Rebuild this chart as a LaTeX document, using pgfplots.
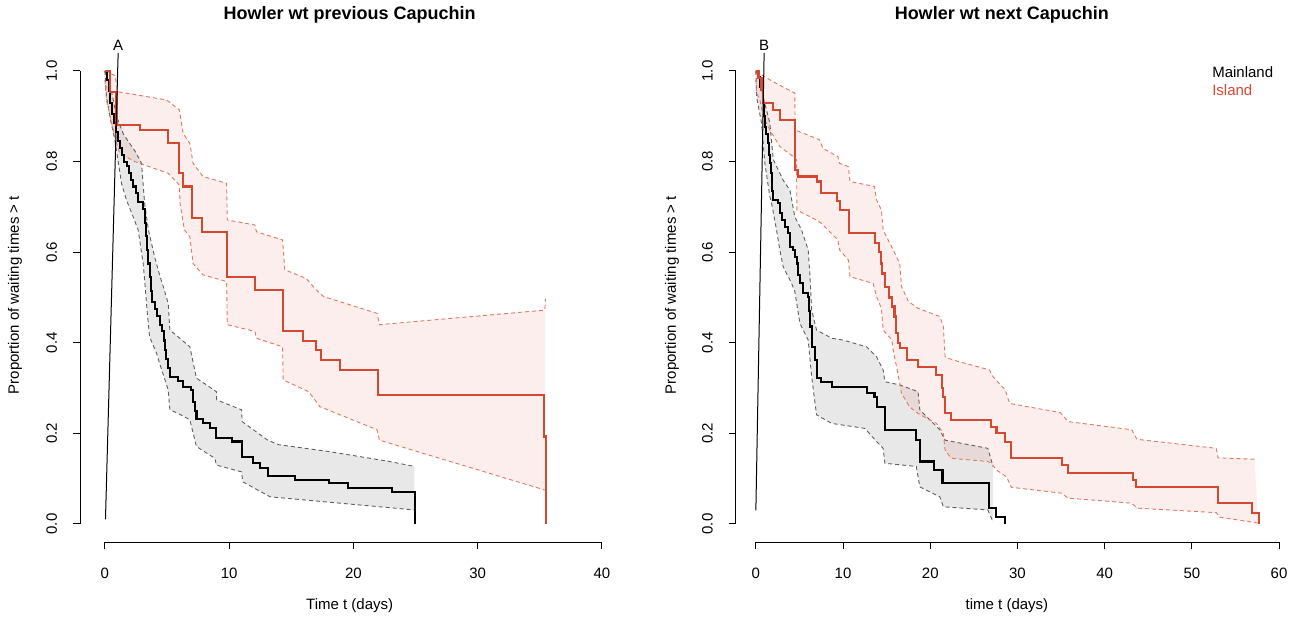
\documentclass[border=0pt]{standalone}
\usepackage{pgfplots}
\pgfplotsset{compat=1.18}
\usepackage{fontspec}
\setmainfont{Liberation Sans}
\definecolor{redC}{RGB}{213,72,48}
\definecolor{redCI}{RGB}{226,120,100}
\definecolor{grayCI}{RGB}{95,95,95}
\pgfplotsset{
  rstyle/.style={
    scale only axis, enlargelimits=false, clip=false,
    axis lines*=left, axis line style={draw=none},
    tick align=outside, major tick length=3.5pt,
    tick style={black, line width=0.5pt},
    ymin=-0.04, ymax=1.08,
    ytick={0,0.2,0.4,0.6,0.8,1.0},
    yticklabels={0.0,0.2,0.4,0.6,0.8,1.0},
    yticklabel style={rotate=90, anchor=south, yshift=4.5pt},
    xticklabel style={yshift=-6pt},
    font=\fontsize{7.5}{9}\selectfont,
    /pgf/number format/assume math mode=true,
    height=253.7pt,
  },
  km/.style={const plot, line width=1.05pt},
  ci/.style={line width=0.45pt, dash pattern=on 2pt off 1.5pt},
}
\begin{document}
\begin{tikzpicture}
\path[use as bounding box] (0,0) rectangle (644.5pt,308.5pt);
% ---------------- Left panel ----------------
\begin{axis}[rstyle, at={(40pt,37.45pt)}, anchor=south west,
  width=267.2pt, xmin=-2, xmax=41, xtick={0,10,20,30,40}]
\draw[black, line width=0.5pt] (axis cs:0,-0.04) -- (axis cs:40,-0.04);
\draw[black, line width=0.5pt] (axis cs:-2,0) -- (axis cs:-2,1);
% bands
\addplot[fill=black, fill opacity=0.09, draw=none] coordinates {(0,1.0)(0.5,0.96)(0.94,0.90)(1.5,0.86)(2.5,0.82)(2.95,0.796)(3.2,0.708)(3.5,0.65)(4.0,0.59)(4.4,0.55)(4.7,0.524)(5.1,0.487)(5.23,0.428)(5.9,0.413)(6.84,0.391)(7.37,0.322)(8.98,0.292)(9.0,0.274)(11.0,0.252)(11.05,0.226)(13.1,0.185)(14.0,0.175)(18.0,0.16)(22.9,0.138)(24.9,0.127)
(24.9,0.031)(13.3,0.06)(11.1,0.093)(11.0,0.115)(8.98,0.13)(8.85,0.145)(7.37,0.171)(6.84,0.23)(5.9,0.244)(5.23,0.252)(5.1,0.296)(4.4,0.355)(4.16,0.377)(3.6,0.413)(3.4,0.47)(3.2,0.539)(3.08,0.575)(2.68,0.649)(2.28,0.678)(1.74,0.715)(1.34,0.752)(1.07,0.80)(0.8,0.848)(0.4,0.90)(0.13,0.943)(0,1.0)} -- cycle;
\addplot[fill=redC, fill opacity=0.09, draw=none] coordinates {(0,1.0)(0.8,0.99)(1.07,0.954)(4.96,0.936)(6.0,0.914)(6.3,0.862)(6.84,0.84)(7.1,0.796)(7.9,0.767)(9.8,0.752)(9.85,0.671)(12.07,0.66)(12.2,0.645)(14.3,0.627)(14.48,0.561)(16.2,0.542)(17.0,0.517)(17.6,0.502)(21.9,0.465)(22.1,0.44)(35.4,0.472)(35.45,0.497)
(35.4,0.075)(22.1,0.185)(21.9,0.208)(17.3,0.259)(16.4,0.292)(14.35,0.318)(14.3,0.391)(12.2,0.41)(12.07,0.425)(9.85,0.44)(9.8,0.535)(7.9,0.55)(7.1,0.575)(6.84,0.634)(6.4,0.649)(6.05,0.708)(6.0,0.748)(5.1,0.774)(2.4,0.80)(1.2,0.818)(0.94,0.84)(0.5,0.89)(0.13,0.936)(0,0.98)} -- cycle;
% Mainland CI
\addplot[ci, grayCI] coordinates {(0,1.0)(0.5,0.96)(0.94,0.90)(1.5,0.86)(2.5,0.82)(2.95,0.796)(3.2,0.708)(3.5,0.65)(4.0,0.59)(4.4,0.55)(4.7,0.524)(5.1,0.487)(5.23,0.428)(5.9,0.413)(6.84,0.391)(7.37,0.322)(8.98,0.292)(9.0,0.274)(11.0,0.252)(11.05,0.226)(13.1,0.185)(14.0,0.175)(18.0,0.16)(22.9,0.138)(24.9,0.127)};
\addplot[ci, grayCI] coordinates {(0,1.0)(0.13,0.943)(0.4,0.90)(0.8,0.848)(1.07,0.80)(1.34,0.752)(1.74,0.715)(2.28,0.678)(2.68,0.649)(3.08,0.575)(3.2,0.539)(3.4,0.47)(3.6,0.413)(4.16,0.377)(4.4,0.355)(5.1,0.296)(5.23,0.252)(5.9,0.244)(6.84,0.23)(7.37,0.171)(8.85,0.145)(8.98,0.13)(11.0,0.115)(11.1,0.093)(13.3,0.06)(24.9,0.031)};
% Island CI
\addplot[ci, redCI] coordinates {(0,1.0)(0.8,0.99)(1.07,0.954)(4.96,0.936)(6.0,0.914)(6.3,0.862)(6.84,0.84)(7.1,0.796)(7.9,0.767)(9.8,0.752)(9.85,0.671)(12.07,0.66)(12.2,0.645)(14.3,0.627)(14.48,0.561)(16.2,0.542)(17.0,0.517)(17.6,0.502)(21.9,0.465)(22.1,0.44)(35.4,0.472)(35.45,0.497)};
\addplot[ci, redCI] coordinates {(0,0.98)(0.13,0.936)(0.5,0.89)(0.94,0.84)(1.2,0.818)(2.4,0.80)(5.1,0.774)(6.0,0.748)(6.05,0.708)(6.4,0.649)(6.84,0.634)(7.1,0.575)(7.9,0.55)(9.8,0.535)(9.85,0.44)(12.07,0.425)(12.2,0.41)(14.3,0.391)(14.35,0.318)(16.4,0.292)(17.3,0.259)(21.9,0.208)(22.1,0.185)(35.4,0.075)};
% KM curves
\addplot[km, black] coordinates {(0,1.0)(0.15,0.98)(0.3,0.955)(0.45,0.93)(0.6,0.905)(0.75,0.885)(0.9,0.865)(1.05,0.845)(1.2,0.83)(1.35,0.815)(1.55,0.80)(1.75,0.79)(1.95,0.775)(2.1,0.76)(2.3,0.745)(2.5,0.73)(2.7,0.71)(3.1,0.695)(3.2,0.665)(3.3,0.635)(3.4,0.605)(3.5,0.575)(3.6,0.545)(3.7,0.515)(3.8,0.49)(4.0,0.475)(4.2,0.46)(4.45,0.44)(4.6,0.425)(4.75,0.405)(4.85,0.385)(4.95,0.365)(5.1,0.345)(5.25,0.325)(5.9,0.315)(6.3,0.303)(6.95,0.296)(7.1,0.27)(7.25,0.25)(7.37,0.232)(7.9,0.222)(8.45,0.212)(8.95,0.19)(10.2,0.182)(11.0,0.147)(11.9,0.135)(12.5,0.123)(13.1,0.105)(15.3,0.097)(18.0,0.09)(19.6,0.08)(23.1,0.07)(24.95,0.0)};
\addplot[km, redC] coordinates {(0,1.0)(0.4,0.954)(0.94,0.88)(2.8,0.87)(5.1,0.84)(6.0,0.774)(6.3,0.745)(7.0,0.675)(7.85,0.645)(9.8,0.546)(12.07,0.517)(14.3,0.425)(15.95,0.403)(17.0,0.384)(17.4,0.362)(18.9,0.34)(22.0,0.285)(35.35,0.193)(35.5,0.0)};
\addplot[black, line width=0.5pt] coordinates {(0.05,0.01)(1.07,1.04)};
\node[anchor=south, inner sep=1pt] at (axis cs:1.07,1.04) {A};
\node[font=\fontsize{9}{11}\selectfont\bfseries] at (axis cs:19.7,1.124) {Howler wt previous Capuchin};
\node at (axis cs:19.7,-0.181) {Time t (days)};
\node[rotate=90] at (axis cs:-7.24,0.505) {Proportion of waiting times > t};
\end{axis}
% ---------------- Right panel ----------------
\begin{axis}[rstyle, at={(367.9pt,37.45pt)}, anchor=south west,
  width=273.8pt, xmin=-2.3, xmax=60.5, xtick={0,10,20,30,40,50,60}]
\draw[black, line width=0.5pt] (axis cs:0,-0.04) -- (axis cs:60,-0.04);
\draw[black, line width=0.5pt] (axis cs:-2.3,0) -- (axis cs:-2.3,1);
% bands
\addplot[fill=black, fill opacity=0.09, draw=none] coordinates {(0,1.0)(0.46,0.98)(0.84,0.943)(1.6,0.885)(2.0,0.804)(3.13,0.759)(3.9,0.737)(4.47,0.678)(5.24,0.649)(6.0,0.605)(6.2,0.55)(6.4,0.472)(6.96,0.428)(8.7,0.41)(10.0,0.406)(12.7,0.391)(13.84,0.369)(14.6,0.34)(14.8,0.314)(16.5,0.307)(18.6,0.292)(18.8,0.252)(21.1,0.208)(21.7,0.185)(26.6,0.167)(27.2,0.127)
(27.2,0.005)(26.6,0.031)(21.5,0.038)(21.1,0.06)(18.8,0.082)(18.4,0.127)(14.8,0.134)(14.6,0.167)(13.84,0.182)(12.5,0.211)(8.7,0.222)(6.96,0.241)(6.4,0.325)(6.0,0.406)(5.05,0.443)(4.47,0.513)(4.1,0.531)(3.13,0.568)(2.75,0.605)(2.37,0.649)(1.8,0.708)(1.6,0.723)(1.03,0.796)(0.65,0.885)(0.08,0.943)(0,1.0)} -- cycle;
\addplot[fill=redC, fill opacity=0.09, draw=none] coordinates {(0,1.0)(1.03,0.987)(2.0,0.976)(4.47,0.951)(4.5,0.87)(7.3,0.848)(7.7,0.829)(9.4,0.811)(9.6,0.796)(10.6,0.789)(10.8,0.756)(13.6,0.745)(13.84,0.715)(14.4,0.693)(14.6,0.649)(15.75,0.605)(16.5,0.575)(16.7,0.524)(17.5,0.491)(18.6,0.476)(21.1,0.458)(21.5,0.436)(21.7,0.369)(22.6,0.362)(26.8,0.34)(27.2,0.325)(28.6,0.296)(29.1,0.266)(34.9,0.246)(35.8,0.226)(43.1,0.208)(43.7,0.187)(52.8,0.167)(53.0,0.146)(57.2,0.143)
(57.6,0.002)(53.2,0.015)(52.8,0.025)(43.7,0.035)(43.1,0.046)(35.8,0.057)(35.06,0.068)(29.3,0.081)(28.75,0.104)(27.6,0.119)(27.0,0.134)(26.6,0.138)(22.4,0.145)(21.7,0.163)(21.5,0.2)(20.7,0.222)(18.6,0.244)(17.6,0.259)(16.7,0.289)(16.5,0.311)(15.75,0.384)(15.6,0.406)(14.6,0.428)(14.4,0.476)(13.84,0.502)(13.45,0.531)(10.8,0.546)(10.6,0.583)(9.6,0.605)(9.4,0.627)(7.5,0.664)(6.96,0.671)(4.7,0.693)(4.67,0.804)(4.28,0.811)(2.75,0.833)(1.6,0.87)(0.84,0.9)(0.46,0.936)(0.08,0.951)(0,0.98)} -- cycle;
% Mainland CI
\addplot[ci, grayCI] coordinates {(0,1.0)(0.46,0.98)(0.84,0.943)(1.6,0.885)(2.0,0.804)(3.13,0.759)(3.9,0.737)(4.47,0.678)(5.24,0.649)(6.0,0.605)(6.2,0.55)(6.4,0.472)(6.96,0.428)(8.7,0.41)(10.0,0.406)(12.7,0.391)(13.84,0.369)(14.6,0.34)(14.8,0.314)(16.5,0.307)(18.6,0.292)(18.8,0.252)(21.1,0.208)(21.7,0.185)(26.6,0.167)(27.2,0.127)};
\addplot[ci, grayCI] coordinates {(0,1.0)(0.08,0.943)(0.65,0.885)(1.03,0.796)(1.6,0.723)(1.8,0.708)(2.37,0.649)(2.75,0.605)(3.13,0.568)(4.1,0.531)(4.47,0.513)(5.05,0.443)(6.0,0.406)(6.4,0.325)(6.96,0.241)(8.7,0.222)(12.5,0.211)(13.84,0.182)(14.6,0.167)(14.8,0.134)(18.4,0.127)(18.8,0.082)(21.1,0.06)(21.5,0.038)(26.6,0.031)(27.2,0.005)};
% Island CI
\addplot[ci, redCI] coordinates {(0,1.0)(1.03,0.987)(2.0,0.976)(4.47,0.951)(4.5,0.87)(7.3,0.848)(7.7,0.829)(9.4,0.811)(9.6,0.796)(10.6,0.789)(10.8,0.756)(13.6,0.745)(13.84,0.715)(14.4,0.693)(14.6,0.649)(15.75,0.605)(16.5,0.575)(16.7,0.524)(17.5,0.491)(18.6,0.476)(21.1,0.458)(21.5,0.436)(21.7,0.369)(22.6,0.362)(26.8,0.34)(27.2,0.325)(28.6,0.296)(29.1,0.266)(34.9,0.246)(35.8,0.226)(43.1,0.208)(43.7,0.187)(52.8,0.167)(53.0,0.146)(57.2,0.143)};
\addplot[ci, redCI] coordinates {(0,0.98)(0.08,0.951)(0.46,0.936)(0.84,0.9)(1.6,0.87)(2.75,0.833)(4.28,0.811)(4.67,0.804)(4.7,0.693)(6.96,0.671)(7.5,0.664)(9.4,0.627)(9.6,0.605)(10.6,0.583)(10.8,0.546)(13.45,0.531)(13.84,0.502)(14.4,0.476)(14.6,0.428)(15.6,0.406)(15.75,0.384)(16.5,0.311)(16.7,0.289)(17.6,0.259)(18.6,0.244)(20.7,0.222)(21.5,0.2)(21.7,0.163)(22.4,0.145)(26.6,0.138)(27.0,0.134)(27.6,0.119)(28.75,0.104)(29.3,0.081)(35.06,0.068)(35.8,0.057)(43.1,0.046)(43.7,0.035)(52.8,0.025)(53.2,0.015)(57.6,0.002)};
% KM curves
\addplot[km, black] coordinates {(0,1.0)(0.27,0.987)(0.5,0.965)(0.84,0.93)(0.95,0.9)(1.03,0.877)(1.2,0.86)(1.41,0.84)(1.5,0.815)(1.6,0.796)(1.7,0.775)(1.8,0.759)(1.9,0.735)(1.99,0.715)(2.56,0.708)(2.75,0.686)(3.0,0.67)(3.33,0.656)(3.7,0.642)(3.9,0.612)(4.28,0.605)(4.47,0.59)(4.67,0.575)(4.85,0.55)(5.05,0.531)(5.4,0.509)(6.0,0.502)(6.05,0.47)(6.2,0.436)(6.4,0.391)(6.77,0.362)(6.96,0.322)(7.5,0.314)(8.7,0.303)(12.7,0.289)(13.6,0.281)(13.84,0.259)(14.8,0.208)(18.4,0.185)(18.8,0.138)(20.4,0.119)(21.4,0.09)(26.7,0.035)(27.5,0.016)(28.6,0.0)};
\addplot[km, redC] coordinates {(0,1.0)(0.3,0.985)(0.65,0.958)(0.84,0.929)(2.0,0.914)(2.75,0.892)(4.47,0.781)(4.85,0.767)(6.96,0.756)(7.5,0.73)(9.3,0.712)(9.6,0.693)(10.7,0.642)(13.7,0.62)(14.1,0.6)(14.3,0.575)(14.5,0.553)(14.8,0.524)(15.3,0.5)(15.6,0.48)(15.9,0.458)(16.1,0.421)(16.3,0.40)(16.5,0.388)(17.3,0.362)(18.6,0.347)(20.7,0.329)(21.3,0.30)(21.5,0.28)(21.7,0.244)(22.4,0.23)(27.0,0.215)(27.6,0.2)(28.6,0.18)(29.3,0.146)(35.1,0.13)(35.8,0.113)(43.2,0.097)(43.6,0.082)(53.0,0.047)(56.9,0.024)(57.7,0.0)};
\addplot[black, line width=0.5pt] coordinates {(0.0,0.03)(0.95,1.04)};
\node[anchor=south, inner sep=1pt] at (axis cs:0.95,1.04) {B};
\node[font=\fontsize{9}{11}\selectfont\bfseries] at (axis cs:28.2,1.124) {Howler wt next Capuchin};
\node at (axis cs:28.8,-0.181) {time t (days)};
\node[rotate=90] at (axis cs:-9.63,0.505) {Proportion of waiting times > t};
\node[anchor=west, inner sep=0pt] at (axis cs:52.3,0.998) {Mainland};
\node[anchor=west, inner sep=0pt, text=redC] at (axis cs:52.3,0.958) {Island};
\end{axis}
\end{tikzpicture}
\end{document}
